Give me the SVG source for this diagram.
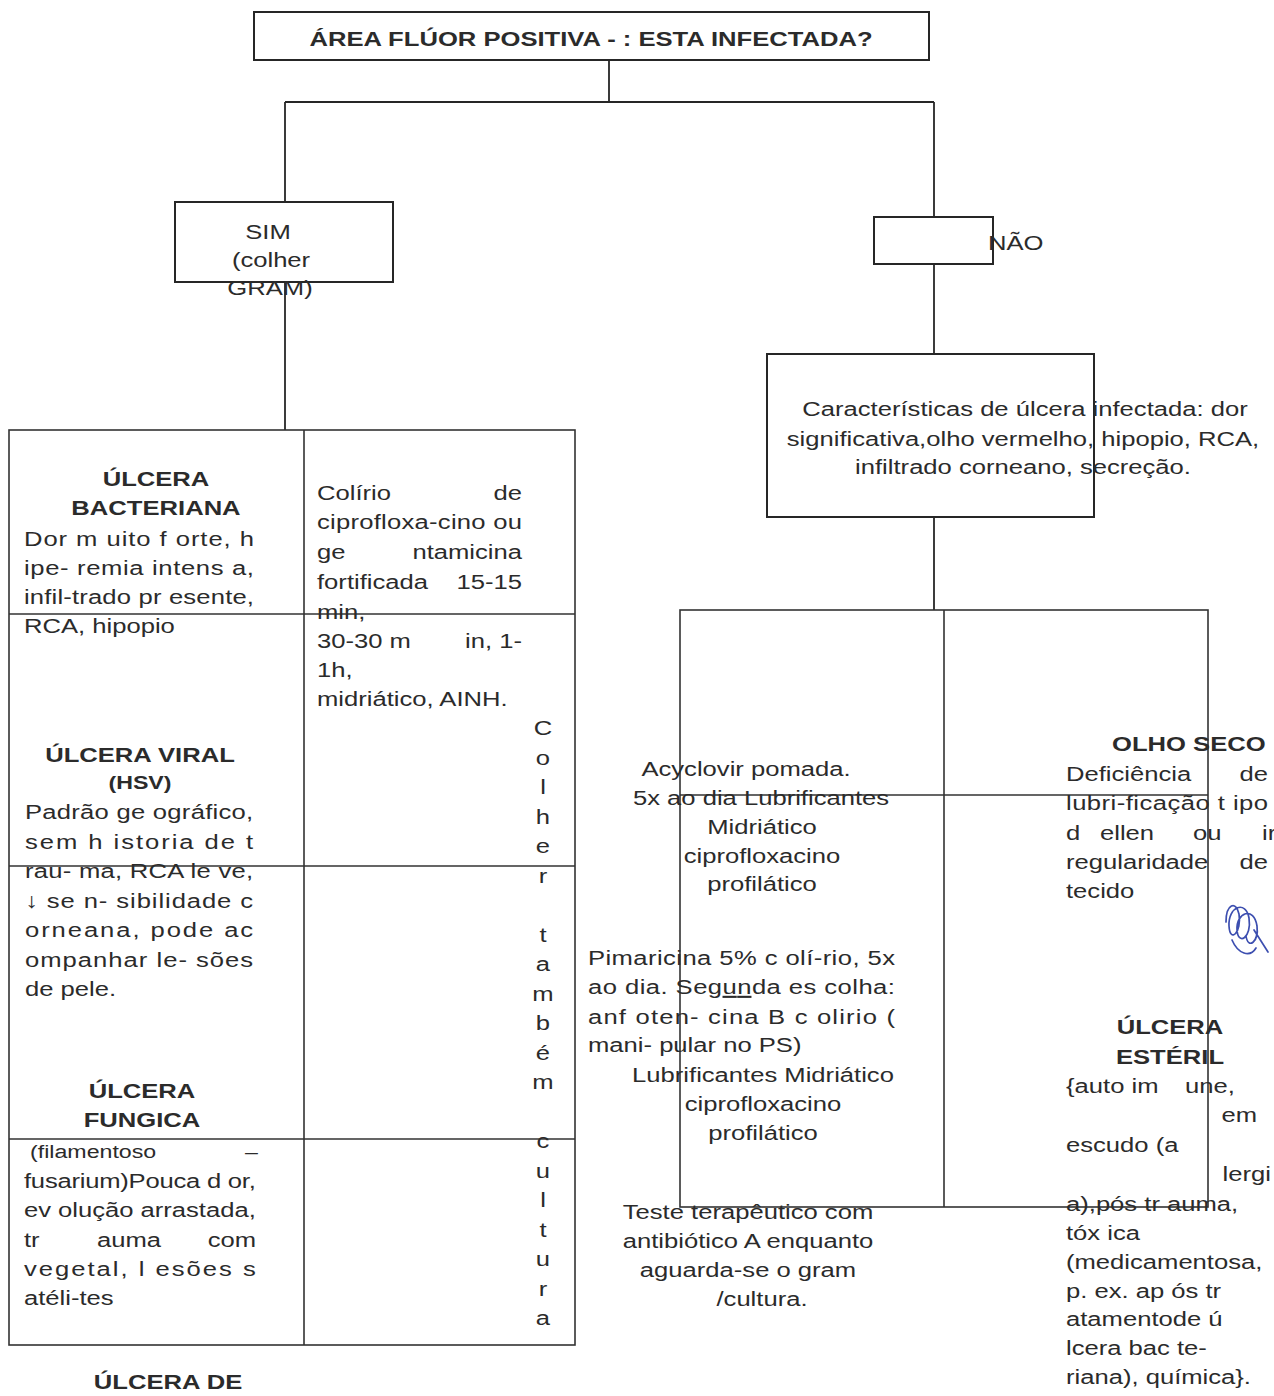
<svg xmlns="http://www.w3.org/2000/svg" width="1274" height="1396" viewBox="0 0 1274 1396">
  <style>
    .t { font-family: "Liberation Sans", Arial, sans-serif; font-size: 21px; fill: #2b2b2b; }
    .b { font-weight: bold; }
    .s { font-size: 19px; }
    .m { text-anchor: middle; }
    .e { text-anchor: end; }
    .box { fill: none; stroke: #262626; stroke-width: 2; }
    .ln { fill: none; stroke: #262626; stroke-width: 1.8; }
    .grid { fill: none; stroke: #333333; stroke-width: 1.6; }
  </style>
  <rect width="1274" height="1396" fill="#ffffff"/>

  <!-- connectors -->
  <g id="connectors">
    <path class="ln" d="M609 60 V102 M285 102 H934 M285 102 V202 M934 102 V217"/>
    <path class="ln" d="M285 282 V430"/>
    <path class="ln" d="M934 264 V354"/>
    <path class="ln" d="M934 517 V610"/>
  </g>

  <!-- root question -->
  <g id="node-root">
    <rect class="box" x="254" y="12" width="675" height="48"/>
    <text class="t b m" transform="matrix(1.22 0 0 1 591 46)">ÁREA FLÚOR POSITIVA - : ESTA INFECTADA?</text>
  </g>

  <!-- yes branch -->
  <g id="node-sim">
    <rect class="box" x="175" y="202" width="218" height="80"/>
    <text class="t m" transform="matrix(1.22 0 0 1 268 239)">SIM</text>
    <text class="t m" transform="matrix(1.22 0 0 1 271 267)">(colher</text>
    <text class="t m" transform="matrix(1.22 0 0 1 270 295)">GRAM)</text>
  </g>

  <!-- no branch -->
  <g id="node-nao">
    <rect class="box" x="874" y="217" width="119" height="47"/>
    <text class="t" transform="matrix(1.22 0 0 1 988 250)">NÃO</text>
  </g>

  <!-- infected ulcer features -->
  <g id="node-caracteristicas">
    <rect class="box" x="767" y="354" width="327" height="163"/>
    <text class="t m" transform="matrix(1.22 0 0 1 1025 416)">Características de úlcera infectada: dor</text>
    <text class="t m" transform="matrix(1.22 0 0 1 1023 446)">significativa,olho vermelho, hipopio, RCA,</text>
    <text class="t m" transform="matrix(1.22 0 0 1 1023 474)">infiltrado corneano, secreção.</text>
  </g>

  <!-- left table: infected ulcers -->
  <g id="node-tabela-infectada">
    <rect class="grid" x="9" y="430" width="566" height="915"/>
    <path class="grid" d="M304 430 V1345 M9 614 H575 M9 866 H575 M9 1139 H575"/>
  </g>

  <g id="node-bacteriana">
    <text class="t b m" transform="matrix(1.22 0 0 1 156 486)">ÚLCERA</text>
    <text class="t b m" transform="matrix(1.22 0 0 1 156 515)">BACTERIANA</text>
    <text class="t" transform="matrix(1.22 0 0 1 24 546)" textLength="188.5" lengthAdjust="spacing">Dor m uito f orte, h</text>
    <text class="t" transform="matrix(1.22 0 0 1 24 575)" textLength="188.5" lengthAdjust="spacing">ipe- remia intens a,</text>
    <text class="t" transform="matrix(1.22 0 0 1 24 604)" textLength="188.5" lengthAdjust="spacing">infil-trado pr esente,</text>
    <text class="t" transform="matrix(1.22 0 0 1 24 633)">RCA, hipopio</text>
  </g>

  <g id="node-tratamento-bacteriana">
    <text class="t" transform="matrix(1.22 0 0 1 317 500)">Colírio</text>
    <text class="t e" transform="matrix(1.22 0 0 1 522 500)">de</text>
    <text class="t" transform="matrix(1.22 0 0 1 317 529)" textLength="168" lengthAdjust="spacing">ciprofloxa-cino ou</text>
    <text class="t" transform="matrix(1.22 0 0 1 317 559)">ge</text>
    <text class="t e" transform="matrix(1.22 0 0 1 522 559)">ntamicina</text>
    <text class="t" transform="matrix(1.22 0 0 1 317 589)">fortificada</text>
    <text class="t e" transform="matrix(1.22 0 0 1 522 589)">15-15</text>
    <text class="t" transform="matrix(1.22 0 0 1 317 619)">min,</text>
    <text class="t" transform="matrix(1.22 0 0 1 317 648)">30-30 m</text>
    <text class="t e" transform="matrix(1.22 0 0 1 522 648)">in, 1-</text>
    <text class="t" transform="matrix(1.22 0 0 1 317 677)">1h,</text>
    <text class="t" transform="matrix(1.22 0 0 1 317 706)">midriático, AINH.</text>
  </g>

  <!-- vertical note: "Colher também cultura" -->
  <g id="node-colher-cultura">
    <text class="t m" transform="matrix(1.22 0 0 1 543 735)">C</text>
    <text class="t m" transform="matrix(1.22 0 0 1 543 764.5)">o</text>
    <text class="t m" transform="matrix(1.22 0 0 1 543 794)">l</text>
    <text class="t m" transform="matrix(1.22 0 0 1 543 823.5)">h</text>
    <text class="t m" transform="matrix(1.22 0 0 1 543 853)">e</text>
    <text class="t m" transform="matrix(1.22 0 0 1 543 882.5)">r</text>
    <text class="t m" transform="matrix(1.22 0 0 1 543 941.5)">t</text>
    <text class="t m" transform="matrix(1.22 0 0 1 543 971)">a</text>
    <text class="t m" transform="matrix(1.22 0 0 1 543 1000.5)">m</text>
    <text class="t m" transform="matrix(1.22 0 0 1 543 1030)">b</text>
    <text class="t m" transform="matrix(1.22 0 0 1 543 1059.5)">é</text>
    <text class="t m" transform="matrix(1.22 0 0 1 543 1089)">m</text>
    <text class="t m" transform="matrix(1.22 0 0 1 543 1148)">c</text>
    <text class="t m" transform="matrix(1.22 0 0 1 543 1177.5)">u</text>
    <text class="t m" transform="matrix(1.22 0 0 1 543 1207)">l</text>
    <text class="t m" transform="matrix(1.22 0 0 1 543 1236.5)">t</text>
    <text class="t m" transform="matrix(1.22 0 0 1 543 1266)">u</text>
    <text class="t m" transform="matrix(1.22 0 0 1 543 1295.5)">r</text>
    <text class="t m" transform="matrix(1.22 0 0 1 543 1325)">a</text>
  </g>

  <g id="node-viral">
    <text class="t b m" transform="matrix(1.22 0 0 1 140 762)">ÚLCERA VIRAL</text>
    <text class="t b s m" transform="matrix(1.22 0 0 1 140 789)">(HSV)</text>
    <text class="t" transform="matrix(1.22 0 0 1 25 819)" textLength="187" lengthAdjust="spacing">Padrão ge ográfico,</text>
    <text class="t" transform="matrix(1.22 0 0 1 25 848.5)" textLength="187" lengthAdjust="spacing">sem h istoria de t</text>
    <text class="t" transform="matrix(1.22 0 0 1 25 878)" textLength="187" lengthAdjust="spacing">rau- ma, RCA le ve,</text>
    <text class="t" transform="matrix(1.22 0 0 1 25 907.5)" textLength="187" lengthAdjust="spacing">↓ se n- sibilidade c</text>
    <text class="t" transform="matrix(1.22 0 0 1 25 937)" textLength="187" lengthAdjust="spacing">orneana, pode ac</text>
    <text class="t" transform="matrix(1.22 0 0 1 25 966.5)" textLength="187" lengthAdjust="spacing">ompanhar le- sões</text>
    <text class="t" transform="matrix(1.22 0 0 1 25 996)">de pele.</text>
  </g>

  <g id="node-fungica">
    <text class="t b m" transform="matrix(1.22 0 0 1 142 1098)">ÚLCERA</text>
    <text class="t b m" transform="matrix(1.22 0 0 1 142 1127)">FUNGICA</text>
    <text class="t s" transform="matrix(1.22 0 0 1 30 1158)">(filamentoso</text>
    <text class="t s e" transform="matrix(1.22 0 0 1 258 1158)">–</text>
    <text class="t" transform="matrix(1.22 0 0 1 24 1188)" textLength="190" lengthAdjust="spacing">fusarium)Pouca d or,</text>
    <text class="t" transform="matrix(1.22 0 0 1 24 1217)" textLength="190" lengthAdjust="spacing">ev olução arrastada,</text>
    <text class="t" transform="matrix(1.22 0 0 1 24 1247)">tr</text>
    <text class="t" transform="matrix(1.22 0 0 1 97 1247)">auma</text>
    <text class="t e" transform="matrix(1.22 0 0 1 256 1247)">com</text>
    <text class="t" transform="matrix(1.22 0 0 1 24 1276)" textLength="190" lengthAdjust="spacing">vegetal, l esões s</text>
    <text class="t" transform="matrix(1.22 0 0 1 24 1305)">atéli-tes</text>
  </g>

  <g id="node-ulcera-de">
    <text class="t b m" transform="matrix(1.22 0 0 1 168 1389)">ÚLCERA DE</text>
  </g>

  <!-- right table: non-infected ulcers -->
  <g id="node-tabela-nao-infectada">
    <rect class="grid" x="680" y="610" width="528" height="597"/>
    <path class="grid" d="M944 610 V1207 M680 795 H1208"/>
  </g>

  <g id="node-tratamento-viral">
    <text class="t m" transform="matrix(1.22 0 0 1 746 776)">Acyclovir pomada.</text>
    <text class="t m" transform="matrix(1.22 0 0 1 761 805)">5x ao dia Lubrificantes</text>
    <text class="t m" transform="matrix(1.22 0 0 1 762 834)">Midriático</text>
    <text class="t m" transform="matrix(1.22 0 0 1 762 863)">ciprofloxacino</text>
    <text class="t m" transform="matrix(1.22 0 0 1 762 891)">profilático</text>
  </g>

  <g id="node-tratamento-fungica">
    <text class="t" transform="matrix(1.22 0 0 1 588 965)" textLength="251.6" lengthAdjust="spacing">Pimaricina 5% c olí-rio, 5x</text>
    <text class="t" transform="matrix(1.22 0 0 1 588 994)" textLength="251.6" lengthAdjust="spacing">ao dia. Seg<tspan text-decoration="underline">un</tspan>da es colha:</text>
    <text class="t" transform="matrix(1.22 0 0 1 588 1024)" textLength="251.6" lengthAdjust="spacing">anf oten- cina B c olirio (</text>
    <text class="t" transform="matrix(1.22 0 0 1 588 1052)">mani- pular no PS)</text>
    <text class="t m" transform="matrix(1.22 0 0 1 763 1082)">Lubrificantes Midriático</text>
    <text class="t m" transform="matrix(1.22 0 0 1 763 1111)">ciprofloxacino</text>
    <text class="t m" transform="matrix(1.22 0 0 1 763 1140)">profilático</text>
  </g>

  <g id="node-teste-terapeutico">
    <text class="t m" transform="matrix(1.22 0 0 1 748 1219)">Teste terapêutico com</text>
    <text class="t m" transform="matrix(1.22 0 0 1 748 1248)">antibiótico A enquanto</text>
    <text class="t m" transform="matrix(1.22 0 0 1 748 1277)">aguarda-se o gram</text>
    <text class="t m" transform="matrix(1.22 0 0 1 762 1306)">/cultura.</text>
  </g>

  <g id="node-olho-seco">
    <text class="t b" transform="matrix(1.22 0 0 1 1112 751)">OLHO SECO</text>
    <text class="t" transform="matrix(1.22 0 0 1 1066 781)">Deficiência</text>
    <text class="t e" transform="matrix(1.22 0 0 1 1268 781)">de</text>
    <text class="t" transform="matrix(1.22 0 0 1 1066 810)" textLength="165.6" lengthAdjust="spacing">lubri-ficação t ipo</text>
    <text class="t" transform="matrix(1.22 0 0 1 1066 840)">d</text>
    <text class="t" transform="matrix(1.22 0 0 1 1100 840)">ellen</text>
    <text class="t" transform="matrix(1.22 0 0 1 1193 840)">ou</text>
    <text class="t" transform="matrix(1.22 0 0 1 1262 840)">ir</text>
    <text class="t" transform="matrix(1.22 0 0 1 1066 869)">regularidade</text>
    <text class="t e" transform="matrix(1.22 0 0 1 1268 869)">de</text>
    <text class="t" transform="matrix(1.22 0 0 1 1066 898)">tecido</text>
    <!-- handwritten initials in blue ink -->
    <path d="M1226 922 C1226 904 1236 900 1239 914 C1242 932 1230 944 1229 926 C1228 906 1246 900 1249 918 C1252 938 1238 946 1237 930 C1236 912 1254 906 1257 926 C1259 942 1248 950 1246 936 M1254 930 L1268 952 M1232 940 C1238 954 1250 958 1256 948" fill="none" stroke="#3d4fb0" stroke-width="1.7" stroke-linecap="round"/>
  </g>

  <g id="node-esteril">
    <text class="t b m" transform="matrix(1.22 0 0 1 1170 1034)">ÚLCERA</text>
    <text class="t b m" transform="matrix(1.22 0 0 1 1170 1064)">ESTÉRIL</text>
    <text class="t" transform="matrix(1.22 0 0 1 1066 1093)">{auto im</text>
    <text class="t" transform="matrix(1.22 0 0 1 1185 1093)">une,</text>
    <text class="t e" transform="matrix(1.22 0 0 1 1257 1122)">em</text>
    <text class="t" transform="matrix(1.22 0 0 1 1066 1152)">escudo (a</text>
    <text class="t e" transform="matrix(1.22 0 0 1 1271 1181)">lergi</text>
    <text class="t" transform="matrix(1.22 0 0 1 1066 1211)">a),pós tr  auma,</text>
    <text class="t" transform="matrix(1.22 0 0 1 1066 1240)">tóx ica</text>
    <text class="t" transform="matrix(1.22 0 0 1 1066 1269)">(medicamentosa,</text>
    <text class="t" transform="matrix(1.22 0 0 1 1066 1298)">p. ex. ap ós tr</text>
    <text class="t" transform="matrix(1.22 0 0 1 1066 1326)">atamentode ú</text>
    <text class="t" transform="matrix(1.22 0 0 1 1066 1355)">lcera bac te-</text>
    <text class="t" transform="matrix(1.22 0 0 1 1066 1384)">riana), química}.</text>
  </g>
</svg>
